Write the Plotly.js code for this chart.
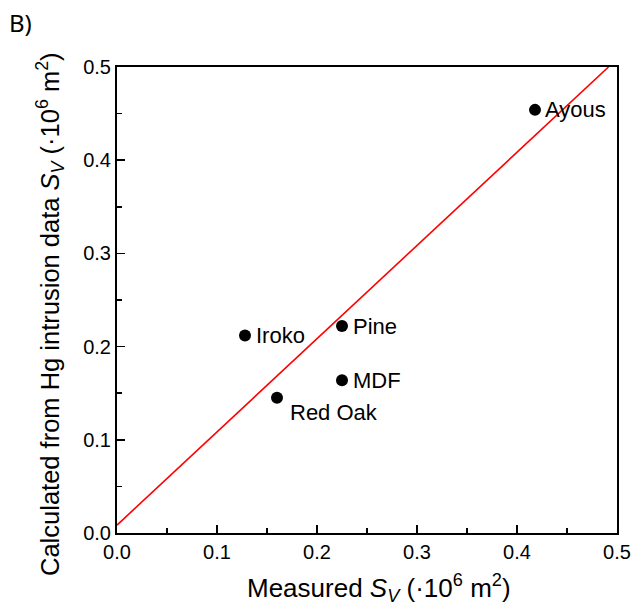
<!DOCTYPE html>
<html>
<head>
<meta charset="utf-8">
<script src="https://cdn.plot.ly/plotly-3.0.1.min.js"></script>
<style>html,body{margin:0;padding:0;background:#fff;}#chart{width:634px;height:609px;}</style>
</head>
<body>
<div id="chart"></div>
<script>
var names = ["Ayous", "Pine", "Iroko", "MDF", "Red Oak"];
var measured = [0.418, 0.225, 0.128, 0.225, 0.160];
var calculated = [0.454, 0.222, 0.212, 0.164, 0.145];
var labelShiftX = [8, 9, 9, 9, 11];
var labelShiftY = [0, 0, 0, 0, -15];
var fitX = [0, 0.4915];
var fitY = [0.0085, 0.5];
var tickVals = [0, 0.1, 0.2, 0.3, 0.4, 0.5];
var tickText = ["0.0", "0.1", "0.2", "0.3", "0.4", "0.5"];
var xTitle = "Measured <i>S</i><sub><i>V</i></sub> (·10<sup>6</sup> m<sup>2</sup>)";
var yTitle = "Calculated from Hg intrusion data <i>S</i><sub><i>V</i></sub> (·10<sup>6</sup> m<sup>2</sup>)";

var font = "Liberation Sans, Arial, sans-serif";

var traces = [
  {x: fitX, y: fitY, mode: "lines", line: {color: "#ff0000", width: 1.6}, hoverinfo: "skip"},
  {x: measured, y: calculated, mode: "markers", marker: {color: "#000", size: 12, symbol: "circle"}}
];

var annotations = names.map(function (n, i) {
  return {x: measured[i], y: calculated[i], xref: "x", yref: "y", text: n, showarrow: false,
    xanchor: "left", yanchor: "middle",
    xshift: labelShiftX[i], yshift: labelShiftY[i], font: {family: font, size: 22, color: "#000"}};
});
annotations.push({xref: "paper", yref: "paper", x: -0.22, y: 1.055, xanchor: "left", yanchor: "bottom",
  text: "B)", showarrow: false, font: {family: "Noto Sans, sans-serif", size: 24, color: "#000"}});
annotations.push({xref: "paper", yref: "paper", x: 0.524, y: -0.118, xanchor: "center", yanchor: "middle",
  text: xTitle, showarrow: false, font: {family: font, size: 26, color: "#000"}});
annotations.push({xref: "paper", yref: "paper", x: -0.134, y: 0.47, xanchor: "center", yanchor: "middle",
  textangle: -90, text: yTitle, showarrow: false, font: {family: font, size: 25.5, color: "#000"}});

var axisCommon = {
  range: [0, 0.5], tickvals: tickVals, ticktext: tickText, ticks: "inside", ticklen: 8, tickwidth: 1.5,
  tickcolor: "#000", showline: true, linecolor: "#000", linewidth: 2, mirror: true, showgrid: false, zeroline: false,
  tickfont: {family: font, size: 20, color: "#000"},
  minor: {tickvals: [0.05, 0.15, 0.25, 0.35, 0.45], ticks: "inside", ticklen: 5, tickwidth: 1.5, tickcolor: "#000", showgrid: false}
};

var layout = {
  width: 634, height: 609,
  margin: {l: 117, r: 17, t: 67, b: 76},
  paper_bgcolor: "#fff", plot_bgcolor: "#fff",
  showlegend: false,
  xaxis: Object.assign({}, axisCommon),
  yaxis: Object.assign({}, axisCommon),
  annotations: annotations
};

Plotly.newPlot("chart", traces, layout, {displayModeBar: false, staticPlot: true});
</script>
</body>
</html>
